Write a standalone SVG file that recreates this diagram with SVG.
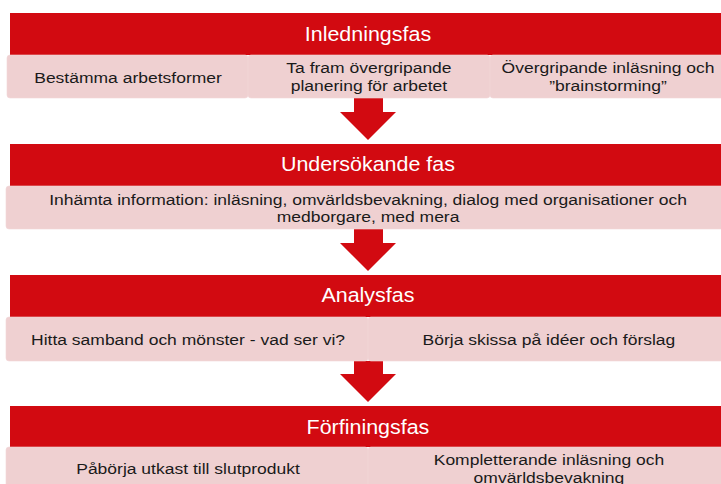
<svg xmlns="http://www.w3.org/2000/svg" width="721" height="484" viewBox="0 0 721 484">
<defs>
<style>
.hdr{fill:#D20A11}
.sub{fill:#EFD0D1;stroke:#F1D7D8;stroke-width:0.6}
.arr{fill:#D20A11}
.ht{font-family:"Liberation Sans",Arial,sans-serif;font-size:19.5px;fill:#FFFFFF;text-anchor:middle}
.bt{font-family:"Liberation Sans",Arial,sans-serif;font-size:15.5px;fill:#1A1A1A;text-anchor:middle}
</style>
</defs>
<rect width="721" height="484" fill="#FFFFFF"/>
<g id="connectors">
<polygon class="arr" points="354,98 383,98 383,112 396,112 368,140 340,112 354,112"/>
<polygon class="arr" points="354,229 383,229 383,243 396,243 368,271 340,243 354,243"/>
<polygon class="arr" points="354,361 383,361 383,374 396,374 368,402 340,374 354,374"/>
</g>
<g id="phase1">
<rect class="hdr" x="10" y="13" width="720" height="42"/>
<text class="ht" transform="scale(1.1,1)" x="334.5" y="41">Inledningsfas</text>
</g>
<g id="phase1-a">
<rect class="sub" x="7" y="55" width="241" height="43" rx="3"/>
<text class="bt" transform="scale(1.13,1)" x="113.3" y="83">Bestämma arbetsformer</text>
</g>
<g id="phase1-b">
<rect class="sub" x="248" y="55" width="242" height="43" rx="3"/>
<text class="bt" transform="scale(1.13,1)" x="326.5" y="73">Ta fram övergripande</text>
<text class="bt" transform="scale(1.13,1)" x="326.5" y="91">planering för arbetet</text>
</g>
<g id="phase1-c">
<rect class="sub" x="490" y="55" width="245" height="43" rx="3"/>
<text class="bt" transform="scale(1.13,1)" x="538.1" y="73">Övergripande inläsning och</text>
<text class="bt" transform="scale(1.13,1)" x="538.1" y="91">”brainstorming”</text>
</g>
<g id="phase2">
<rect class="hdr" x="10" y="144" width="720" height="42"/>
<text class="ht" transform="scale(1.1,1)" x="334.5" y="171">Undersökande fas</text>
</g>
<g id="phase2-a">
<rect class="sub" x="6" y="186" width="729" height="43" rx="3"/>
<text class="bt" transform="scale(1.13,1)" x="325.7" y="205">Inhämta information: inläsning, omvärldsbevakning, dialog med organisationer och</text>
<text class="bt" transform="scale(1.13,1)" x="325.7" y="222">medborgare, med mera</text>
</g>
<g id="phase3">
<rect class="hdr" x="10" y="275" width="720" height="42"/>
<text class="ht" transform="scale(1.1,1)" x="334.5" y="302">Analysfas</text>
</g>
<g id="phase3-a">
<rect class="sub" x="6" y="317" width="362" height="44" rx="3"/>
<text class="bt" transform="scale(1.13,1)" x="166.4" y="345">Hitta samband och mönster - vad ser vi?</text>
</g>
<g id="phase3-b">
<rect class="sub" x="368" y="317" width="367" height="44" rx="3"/>
<text class="bt" transform="scale(1.13,1)" x="485.8" y="345">Börja skissa på idéer och förslag</text>
</g>
<g id="phase4">
<rect class="hdr" x="10" y="406" width="720" height="41"/>
<text class="ht" transform="scale(1.1,1)" x="334.5" y="434">Förfiningsfas</text>
</g>
<g id="phase4-a">
<rect class="sub" x="6" y="447" width="362" height="45" rx="3"/>
<text class="bt" transform="scale(1.13,1)" x="166.4" y="474">Påbörja utkast till slutprodukt</text>
</g>
<g id="phase4-b">
<rect class="sub" x="368" y="447" width="367" height="45" rx="3"/>
<text class="bt" transform="scale(1.13,1)" x="485.8" y="465">Kompletterande inläsning och</text>
<text class="bt" transform="scale(1.13,1)" x="485.8" y="483">omvärldsbevakning</text>
</g>
</svg>
